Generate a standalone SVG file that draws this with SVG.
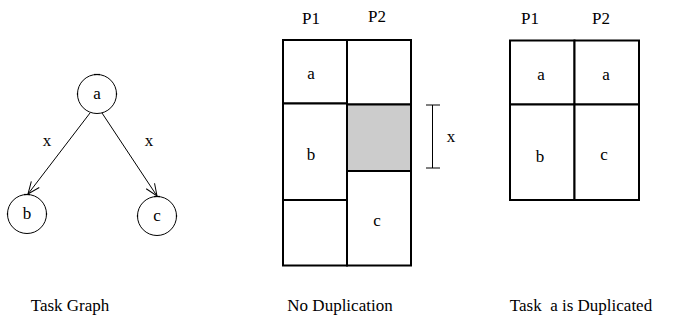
<svg xmlns="http://www.w3.org/2000/svg" width="678" height="322" viewBox="0 0 678 322" font-family="'Liberation Serif', 'Times New Roman', 'DejaVu Serif', serif">
<style>
text{font-family:'Liberation Serif','Times New Roman','DejaVu Serif',serif;font-size:17px;fill:#000;text-anchor:middle}
.node{fill:#fff;stroke:#000;stroke-width:1}
.cell{fill:#fff;stroke:#000;stroke-width:2}
.edge{stroke:#000;stroke-width:1;fill:none}
.tick{stroke:#000;stroke-width:1.2}
</style>
<defs>
<marker id="arr" markerWidth="14" markerHeight="14" refX="13" refY="7" orient="auto" markerUnits="userSpaceOnUse">
<path d="M1,2 L13,7 L1,12" fill="none" stroke="#000" stroke-width="1"/>
</marker>
</defs>
<g id="connectors">
<line class="edge" x1="90" y1="113" x2="28" y2="194" marker-end="url(#arr)"/>
<line class="edge" x1="102" y1="113" x2="157" y2="196" marker-end="url(#arr)"/>
</g>
<g id="node-a">
<circle class="node" cx="97" cy="94" r="19.5"/>
<line class="tick" x1="94" y1="74.5" x2="100" y2="74.5" stroke-width="2"/>
<line class="tick" x1="77.5" y1="93" x2="77.5" y2="95"/>
<line class="tick" x1="116.5" y1="93" x2="116.5" y2="95"/>
<text x="97" y="99">a</text>
</g>
<g id="node-b">
<circle class="node" cx="27" cy="214" r="19.5"/>
<line class="tick" x1="24" y1="194.5" x2="30" y2="194.5" stroke-width="2"/>
<line class="tick" x1="7.5" y1="213" x2="7.5" y2="215"/>
<line class="tick" x1="46.5" y1="213" x2="46.5" y2="215"/>
<text x="27" y="219">b</text>
</g>
<g id="node-c">
<circle class="node" cx="157" cy="216" r="19.5"/>
<line class="tick" x1="154" y1="196.5" x2="160" y2="196.5" stroke-width="2"/>
<line class="tick" x1="137.5" y1="215" x2="137.5" y2="217"/>
<line class="tick" x1="176.5" y1="215" x2="176.5" y2="217"/>
<text x="157" y="221">c</text>
</g>
<g id="edge-labels">
<text x="47" y="146">x</text>
<text x="149" y="146">x</text>
</g>
<g id="no-dup">
<text x="311" y="24">P1</text>
<text x="377" y="22">P2</text>
<rect class="cell" x="283" y="40" width="64" height="63.5"/>
<rect class="cell" x="283" y="103.5" width="64" height="96.5"/>
<rect class="cell" x="283" y="200" width="64" height="65.5"/>
<rect class="cell" x="347" y="40" width="64" height="64.5"/>
<rect x="347" y="104.5" width="64" height="66.5" fill="#cccccc" stroke="#000" stroke-width="2"/>
<rect class="cell" x="347" y="171" width="64" height="94.5"/>
<text x="311" y="79">a</text>
<text x="311" y="160">b</text>
<text x="377" y="226">c</text>
<line class="edge" x1="432.5" y1="105" x2="432.5" y2="168" stroke-width="2"/>
<line class="edge" x1="426" y1="105" x2="440" y2="105" stroke-width="2"/>
<line class="edge" x1="426" y1="168" x2="440" y2="168" stroke-width="2"/>
<text x="451" y="142">x</text>
</g>
<g id="dup">
<text x="530" y="24">P1</text>
<text x="601" y="24">P2</text>
<rect class="cell" x="510" y="40.5" width="64.5" height="64"/>
<rect class="cell" x="574.5" y="40.5" width="64.5" height="64"/>
<rect class="cell" x="510" y="104.5" width="64.5" height="95.5"/>
<rect class="cell" x="574.5" y="104.5" width="64.5" height="95.5"/>
<text x="541" y="80">a</text>
<text x="606" y="80">a</text>
<text x="540" y="162">b</text>
<text x="604" y="160">c</text>
</g>
<g id="captions">
<text x="70" y="311">Task Graph</text>
<text x="340" y="311">No Duplication</text>
<text x="581" y="311">Task&#160; a is Duplicated</text>
</g>
</svg>
